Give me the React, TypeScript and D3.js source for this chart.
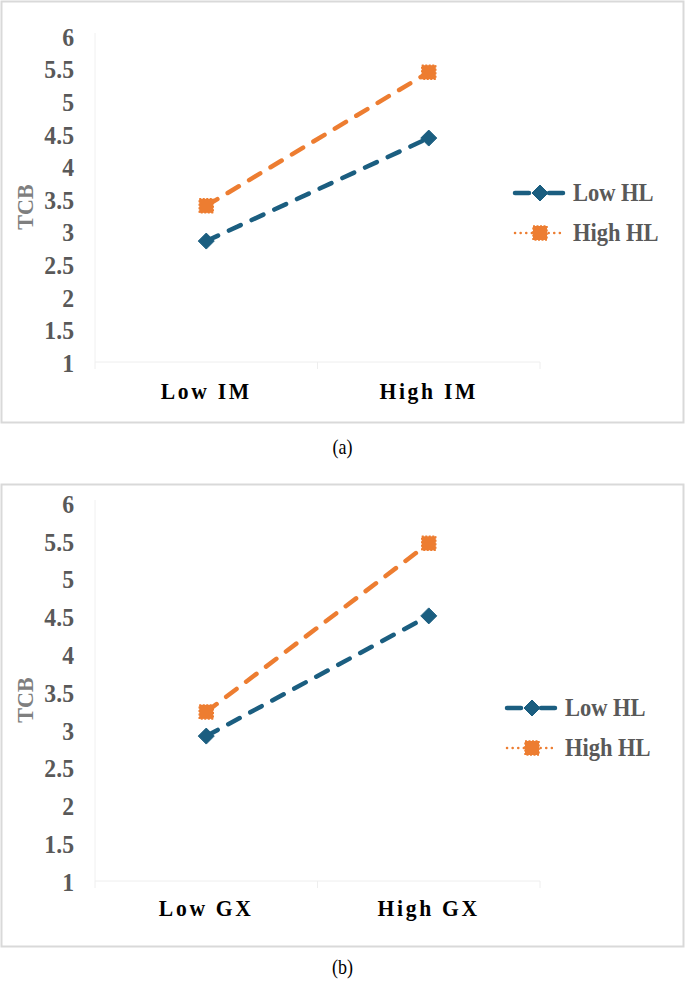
import { useEffect, useRef } from "react";
import * as d3 from "d3";

// values
const yTicks = [1, 1.5, 2, 2.5, 3, 3.5, 4, 4.5, 5, 5.5, 6];
const seriesNames = ["Low HL", "High HL"];

const catsA = ["Low IM", "High IM"];
const lowHLA = [2.87, 4.45];
const highHLA = [3.41, 5.46];

const catsB = ["Low GX", "High GX"];
const lowHLB = [2.93, 4.52];
const highHLB = [3.25, 5.48];

const BLUE = "#1b5e80";
const ORANGE = "#ed7d31";
const GRAY = "#595959";
const FONT = "Liberation Serif, Times New Roman, serif";

interface Panel {
  top: number;
  bottom: number;
  yTop: number;
  yBottom: number;
  cats: string[];
  low: number[];
  high: number[];
  caption: string;
  captionY: number;
  catY: number;
  legendY: number;
  legendX: number;
}

const panels: Panel[] = [
  {
    top: 1, bottom: 422, yTop: 37, yBottom: 363,
    cats: catsA, low: lowHLA, high: highHLA,
    caption: "(a)", captionY: 447, catY: 391, legendY: 193, legendX: 513,
  },
  {
    top: 484, bottom: 946, yTop: 504, yBottom: 882,
    cats: catsB, low: lowHLB, high: highHLB,
    caption: "(b)", captionY: 967, catY: 908, legendY: 708, legendX: 505,
  },
];

type G = d3.Selection<SVGGElement, unknown, null, undefined>;

function drawDiamond(g: G, x: number, y: number, r: number) {
  g.append("path")
    .attr("d", `M${x},${y - r}L${x + r},${y}L${x},${y + r}L${x - r},${y}Z`)
    .attr("fill", BLUE)
    .attr("stroke", BLUE)
    .attr("stroke-width", 1)
    .attr("stroke-linejoin", "round");
}

function drawSquare(g: G, x: number, y: number, r: number) {
  g.append("rect")
    .attr("x", x - r).attr("y", y - r)
    .attr("width", 2 * r).attr("height", 2 * r)
    .attr("fill", ORANGE)
    .attr("stroke", ORANGE)
    .attr("stroke-width", 1.5)
    .attr("stroke-dasharray", "2 1.5");
}

// bold serif text, slightly condensed like the source figure
function label(g: G, x: number, y: number, txt: string, size: number, fill: string, anchor = "start", spacing = 0, sx = 0.9) {
  const t = g.append("text")
    .attr("transform", `translate(${x},${y}) scale(${sx},1)`)
    .attr("text-anchor", anchor)
    .attr("dominant-baseline", "central")
    .attr("fill", fill)
    .attr("font-family", FONT)
    .attr("font-weight", "bold")
    .attr("font-size", `${size}px`)
    .text(txt);
  if (spacing) t.attr("letter-spacing", `${spacing}px`);
  return t;
}

export default function App() {
  const svgRef = useRef<SVGSVGElement>(null);

  useEffect(() => {
    if (!svgRef.current) return;
    const svg = d3.select(svgRef.current);
    svg.selectAll("*").remove();

    panels.forEach((p) => {
      const g = svg.append("g") as unknown as G;

      g.append("rect")
        .attr("x", 1.5).attr("y", p.top + 0.5)
        .attr("width", 682).attr("height", p.bottom - p.top)
        .attr("fill", "#fff")
        .attr("stroke", "#d9d9d9")
        .attr("stroke-width", 2);

      const y = d3.scaleLinear().domain([1, 6]).range([p.yBottom, p.yTop]);
      const x = d3.scaleBand<string>().domain(p.cats).range([95, 540]);
      const cx = (c: string) => x(c)! + x.bandwidth() / 2;
      const base = y(1) - 1;

      // faint plot frame
      g.append("line")
        .attr("x1", 95).attr("x2", 95)
        .attr("y1", y(6) - 4).attr("y2", base)
        .attr("stroke", "#f0f0f0").attr("stroke-width", 1);
      g.append("line")
        .attr("x1", 95).attr("x2", 540)
        .attr("y1", base).attr("y2", base)
        .attr("stroke", "#eeeeee").attr("stroke-width", 1);
      [95, 95 + x.bandwidth(), 540].forEach((t) => {
        g.append("line")
          .attr("x1", t).attr("x2", t)
          .attr("y1", base).attr("y2", base + 7)
          .attr("stroke", "#eeeeee").attr("stroke-width", 1);
      });

      // y tick labels
      yTicks.forEach((v) => {
        label(g, 74, y(v), d3.format("")(v), 25, GRAY, "end", 0, 0.95);
      });

      // y title
      g.append("text")
        .attr("transform", `translate(25,${y(3.5) + 7}) rotate(-90) scale(0.92,1)`)
        .attr("text-anchor", "middle")
        .attr("dominant-baseline", "central")
        .attr("fill", "#7f7f7f")
        .attr("font-family", FONT)
        .attr("font-weight", "bold")
        .attr("font-size", "24px")
        .text("TCB");

      // category labels
      p.cats.forEach((c) => {
        label(g, cx(c), p.catY, c, 24, "#000", "middle", 3);
      });

      const line = d3.line<number>()
        .x((_, i) => cx(p.cats[i]))
        .y((d) => y(d));

      const series = [
        { vals: p.low, color: BLUE },
        { vals: p.high, color: ORANGE },
      ];
      series.forEach((s) => {
        g.append("path")
          .datum(s.vals)
          .attr("d", line)
          .attr("fill", "none")
          .attr("stroke", s.color)
          .attr("stroke-width", 4.5)
          .attr("stroke-linecap", "round")
          .attr("stroke-dasharray", "13 12");
      });
      p.low.forEach((v, i) => drawDiamond(g, cx(p.cats[i]), y(v), 8));
      p.high.forEach((v, i) => drawSquare(g, cx(p.cats[i]), y(v), 7));

      // legend
      const lg = g.append("g").attr("transform", `translate(${p.legendX},${p.legendY})`) as unknown as G;
      lg.append("line")
        .attr("x1", 2).attr("x2", 50).attr("y1", 0).attr("y2", 0)
        .attr("stroke", BLUE).attr("stroke-width", 4.5)
        .attr("stroke-linecap", "round")
        .attr("stroke-dasharray", "14 20");
      drawDiamond(lg, 27, 0, 8);
      lg.append("line")
        .attr("x1", 2).attr("x2", 52).attr("y1", 40).attr("y2", 40)
        .attr("stroke", ORANGE).attr("stroke-width", 2.5)
        .attr("stroke-linecap", "round")
        .attr("stroke-dasharray", "0.1 5.5");
      drawSquare(lg, 27, 40, 7);
      seriesNames.forEach((n, i) => {
        label(lg, 60, i * 40, n, 25, GRAY);
      });

      // caption
      g.append("text")
        .attr("transform", `translate(342.5,${p.captionY}) scale(0.9,1)`)
        .attr("text-anchor", "middle")
        .attr("dominant-baseline", "central")
        .attr("fill", "#000")
        .attr("font-family", FONT)
        .attr("font-size", "20px")
        .text(p.caption);
    });
  }, []);

  return (
    <svg
      ref={svgRef}
      width={685}
      height={984}
      style={{ position: "absolute", left: 0, top: 0, background: "#fff" }}
      role="img"
      aria-label="Interaction plots of TCB by HL level"
    />
  );
}
